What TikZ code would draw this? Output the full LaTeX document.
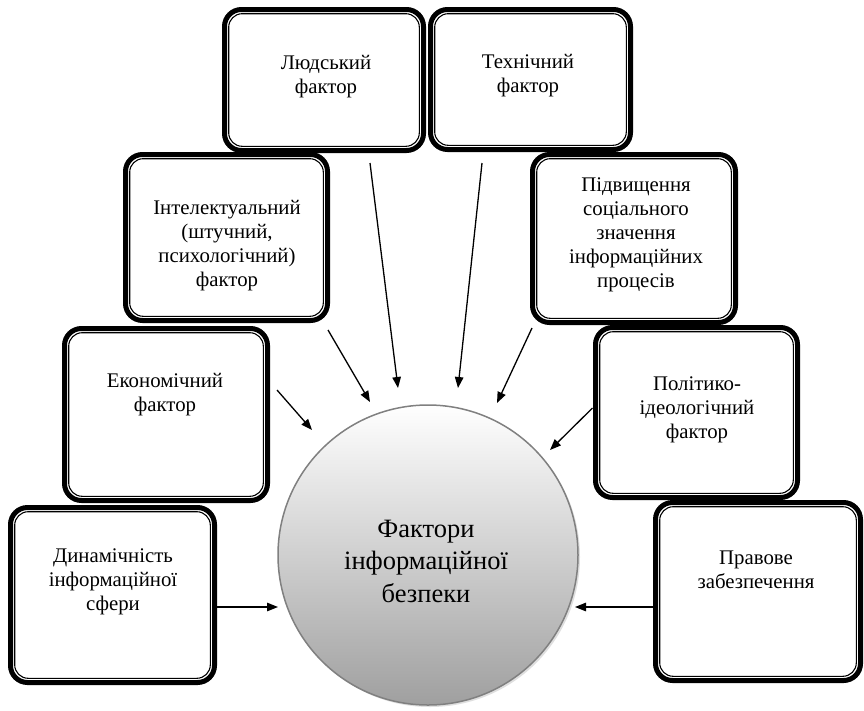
\documentclass[tikz,border=0pt]{standalone}
\usepackage{fontspec}
\setmainfont{Liberation Serif}
\usetikzlibrary{arrows.meta,shadows}
\definecolor{rim}{RGB}{128,128,128}

\begin{document}
\begin{tikzpicture}[x=1pt,y=-1pt,
  % rounded box with a thick outer and thin inner border
  factor/.style={draw=black, fill=white, line width=5pt, rounded corners=17pt,
    inner sep=0pt, outer sep=0pt,
    path picture={\draw[line width=1.1pt, rounded corners=13.5pt]
      ([shift={(4.2pt,-4.2pt)}]path picture bounding box.north west) rectangle
      ([shift={(-4.2pt,4.2pt)}]path picture bounding box.south east);}},
  ftext/.style={align=center, inner sep=0pt, font=\fontsize{20.8}{24}\selectfont},
  hubtext/.style={align=center, inner sep=0pt, font=\fontsize{26.5}{32.5}\selectfont},
  link/.style={line width=1.3pt, -{Triangle[length=11pt,width=8.5pt]}}
]
\useasboundingbox (0,0) rectangle (864,710);
\fill[white] (0,0) rectangle (864,710);

% top row
\node[factor, minimum width=199pt, minimum height=141pt] (lyud) at (324,80) {};
\node[factor, minimum width=200pt, minimum height=140pt] (tech) at (530.5,79.5) {};
% second row
\node[factor, minimum width=202pt, minimum height=166pt] (intel) at (226.5,237.5) {};
\node[factor, minimum width=203pt, minimum height=168pt] (pidv) at (634,238.5) {};
% third row
\node[factor, minimum width=203pt, minimum height=172pt] (eco) at (166,414.5) {};
\node[factor, minimum width=202pt, minimum height=170pt] (pol) at (696.5,412.5) {};
% bottom row
\node[factor, minimum width=204pt, minimum height=175pt] (dyn) at (112.5,595) {};
\node[factor, minimum width=205pt, minimum height=178pt] (prav) at (758,591.5) {};

% box texts
\node[ftext] (lyudT) at (326,77) {Людський\\фактор};
\node[ftext] (techT) at (528,76) {Технічний\\фактор};
\node[ftext] (intelT) at (227,246) {Інтелектуальний\\(штучний,\\психологічний)\\фактор};
\node[ftext] (pidvT) at (636,235) {Підвищення\\соціального\\значення\\інформаційних\\процесів};
\node[ftext] (ecoT) at (165,395) {Економічний\\фактор};
\node[ftext] (polT) at (697,410) {Політико-\\ідеологічний\\фактор};
\node[ftext] (dynT) at (113,582) {Динамічність\\інформаційної\\сфери};
\node[ftext] (pravT) at (756,570) {Правове\\забезпечення};

% central circle
\node[circle, draw=rim, line width=1.5pt, minimum size=300pt, inner sep=0pt,
  top color=white, middle color=gray!22, bottom color=gray!75,
  drop shadow={shadow xshift=2pt, shadow yshift=-2pt, opacity=0.25}] (hub) at (428,555) {};
\node[hubtext] (hubT) at (426,561) {Фактори\\інформаційної\\безпеки};

% arrow tips near the circle
\coordinate (lyudTip) at (398,388);
\coordinate (techTip) at (458,388);
\coordinate (intelTip) at (370,402);
\coordinate (pidvTip) at (497,403);
\coordinate (ecoTip) at (312,430);
\coordinate (polTip) at (550,450);
\coordinate (dynTip) at (278,607);
\coordinate (pravTip) at (575,607);

\draw[link] ([xshift=46pt,yshift=-12.5pt]lyud.south) -- (lyudTip);
\draw[link] ([xshift=-48.5pt,yshift=-13.5pt]tech.south) -- (techTip);
\draw[link] ([xshift=0.5pt,yshift=-9.5pt]intel.south east) -- (intelTip);
\draw[link] ([xshift=-0.5pt,yshift=-5.5pt]pidv.south west) -- (pidvTip);
\draw[link] ([xshift=9.5pt,yshift=24.5pt]eco.east) -- (ecoTip);
\draw[link] ([xshift=-3pt,yshift=4.5pt]pol.west) -- (polTip);
\draw[link] ([xshift=2.5pt,yshift=-12pt]dyn.east) -- (dynTip);
\draw[link] ([xshift=-2.5pt,yshift=-15.5pt]prav.west) -- (pravTip);
\end{tikzpicture}
\end{document}
